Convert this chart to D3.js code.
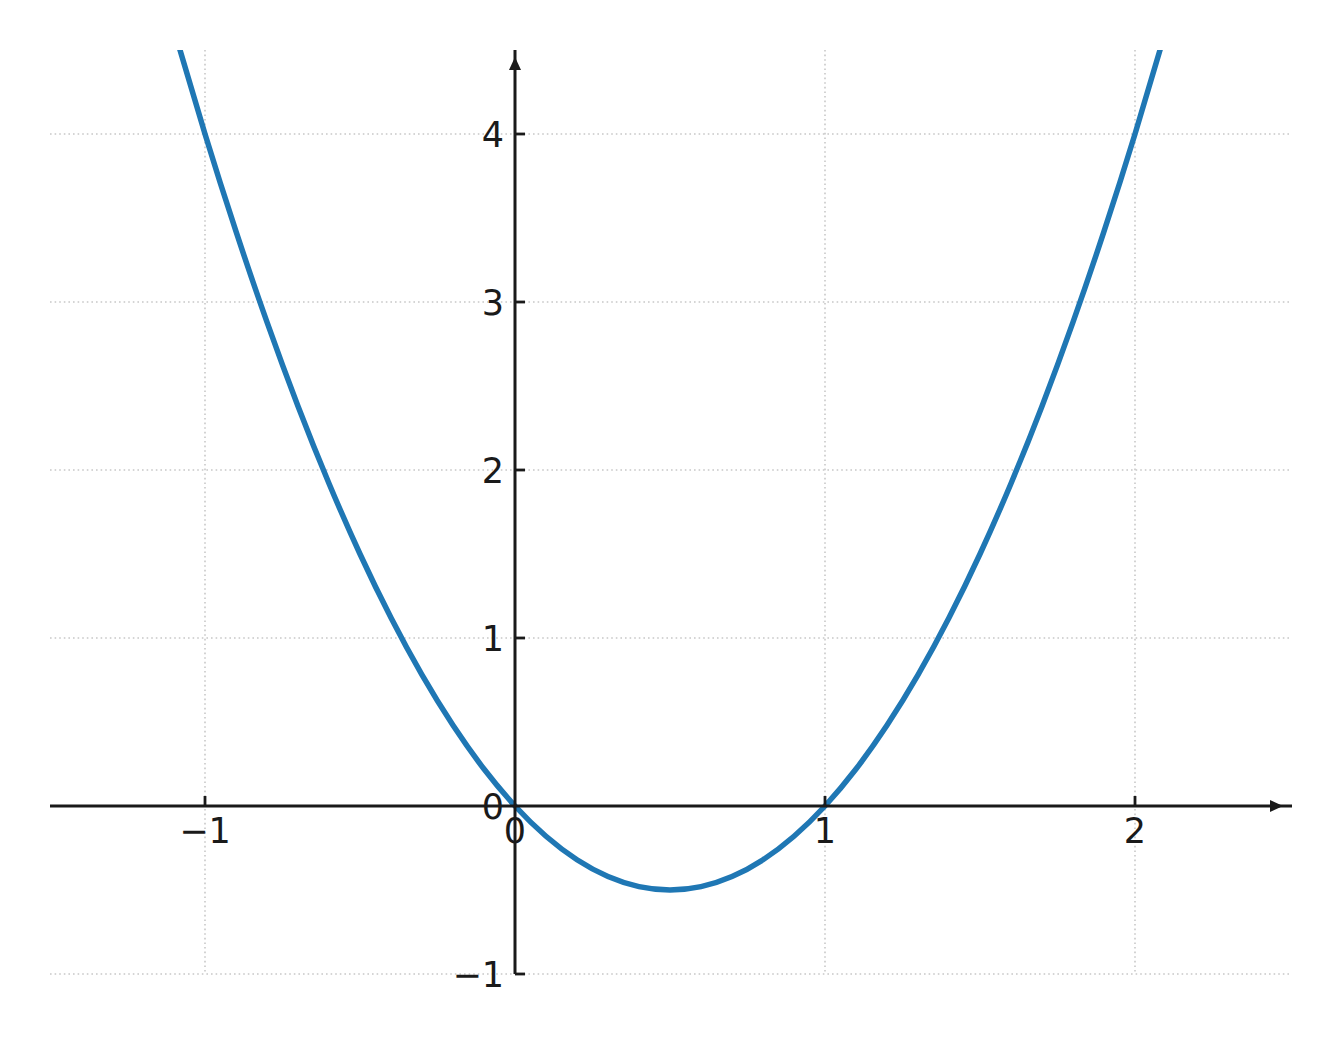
<!DOCTYPE html>
<html>
<head>
<meta charset="utf-8">
<script src="https://cdn.jsdelivr.net/npm/d3@7"></script>
<style>
  body { margin: 0; background: #fff; }
  .tick-label { font-family: "DejaVu Sans", sans-serif; font-size: 35px; fill: #1a1a1a; }
</style>
</head>
<body>
<div class="chart"></div>
<script>
// Data
var xValues = [-1.1, -1.0, -0.9, -0.8, -0.7, -0.6, -0.5, -0.4, -0.3, -0.2, -0.1, 0.0,
  0.1, 0.2, 0.3, 0.4, 0.5, 0.6, 0.7, 0.8, 0.9, 1.0, 1.1, 1.2, 1.3, 1.4, 1.5, 1.6,
  1.7, 1.8, 1.9, 2.0, 2.1];
var yValues = [4.62, 4.0, 3.42, 2.88, 2.38, 1.92, 1.5, 1.12, 0.78, 0.48, 0.22, 0.0,
  -0.18, -0.32, -0.42, -0.48, -0.5, -0.48, -0.42, -0.32, -0.18, 0.0, 0.22, 0.48, 0.78,
  1.12, 1.5, 1.92, 2.38, 2.88, 3.42, 4.0, 4.62];
var xTicks = [-1, 0, 1, 2];
var yTicks = [-1, 0, 1, 2, 3, 4];

var points = xValues.map((x, i) => ({ x: x, y: yValues[i] }));

//Define SVG
var svgWidth = 1340;
var svgHeight = 1044;

var margin = { top: 50, right: 50, bottom: 70, left: 50 };
var width = svgWidth - margin.left - margin.right;
var height = svgHeight - margin.top - margin.bottom;

var svg = d3.select(".chart")
  .append("svg")
  .attr("width", svgWidth)
  .attr("height", svgHeight);

var chartGroup = svg.append("g")
  .attr("transform", `translate(${margin.left}, ${margin.top})`);

// Scales
var xScale = d3.scaleLinear().domain([-1.5, 2.5]).range([0, width]);
var yScale = d3.scaleLinear().domain([-1, 4.5]).range([height, 0]);

// Dotted grid
chartGroup.append("g")
  .selectAll("line")
  .data(xTicks)
  .enter()
  .append("line")
  .attr("x1", d => xScale(d)).attr("x2", d => xScale(d))
  .attr("y1", 0).attr("y2", height)
  .attr("stroke", "#c8c8c8")
  .attr("stroke-width", 1.6)
  .attr("stroke-dasharray", "1.6,3");

chartGroup.append("g")
  .selectAll("line")
  .data(yTicks)
  .enter()
  .append("line")
  .attr("x1", 0).attr("x2", width)
  .attr("y1", d => yScale(d)).attr("y2", d => yScale(d))
  .attr("stroke", "#c8c8c8")
  .attr("stroke-width", 1.6)
  .attr("stroke-dasharray", "1.6,3");

// Curve, clipped to plot area
svg.append("defs").append("clipPath")
  .attr("id", "plot-clip")
  .append("rect")
  .attr("width", width)
  .attr("height", height);

var line = d3.line()
  .x(d => xScale(d.x))
  .y(d => yScale(d.y))
  .curve(d3.curveNatural);

chartGroup.append("path")
  .datum(points)
  .attr("clip-path", "url(#plot-clip)")
  .attr("d", line)
  .attr("fill", "none")
  .attr("stroke", "#1f77b4")
  .attr("stroke-width", 5.5)
  .attr("stroke-linejoin", "round");

// Axes through the origin
var axisColor = "#1a1a1a";
var x0 = xScale(0);
var y0 = yScale(0);

// x axis line
chartGroup.append("line")
  .attr("x1", 0).attr("x2", width + 2)
  .attr("y1", y0).attr("y2", y0)
  .attr("stroke", axisColor)
  .attr("stroke-width", 3);

chartGroup.append("path")
  .attr("d", `M${width - 20},${y0 - 6} L${width - 7},${y0} L${width - 20},${y0 + 6} Z`)
  .attr("fill", axisColor);

// y axis line
chartGroup.append("line")
  .attr("x1", x0).attr("x2", x0)
  .attr("y1", height).attr("y2", 0)
  .attr("stroke", axisColor)
  .attr("stroke-width", 3);

chartGroup.append("path")
  .attr("d", `M${x0 - 6},${20} L${x0},${7} L${x0 + 6},${20} Z`)
  .attr("fill", axisColor);

// x ticks (upward) and labels
var xTickG = chartGroup.append("g")
  .selectAll("g")
  .data(xTicks)
  .enter()
  .append("g");

xTickG.filter(d => d !== 0).append("line")
  .attr("x1", d => xScale(d)).attr("x2", d => xScale(d))
  .attr("y1", y0).attr("y2", y0 - 10)
  .attr("stroke", axisColor)
  .attr("stroke-width", 2.8);

xTickG.append("text")
  .attr("class", "tick-label")
  .attr("x", d => xScale(d))
  .attr("y", y0 + 37)
  .attr("text-anchor", "middle")
  .text(d => d3.format("")(d).replace("-", "\u2212"));

// y ticks (to the right) and labels
var yTickG = chartGroup.append("g")
  .selectAll("g")
  .data(yTicks)
  .enter()
  .append("g");

yTickG.filter(d => d !== 0).append("line")
  .attr("x1", x0).attr("x2", x0 + 10)
  .attr("y1", d => yScale(d)).attr("y2", d => yScale(d))
  .attr("stroke", axisColor)
  .attr("stroke-width", 2.8);

yTickG.append("text")
  .attr("class", "tick-label")
  .attr("x", x0 - 11)
  .attr("y", d => yScale(d))
  .attr("dy", "0.36em")
  .attr("text-anchor", "end")
  .text(d => d3.format("")(d).replace("-", "\u2212"));
</script>
</body>
</html>
